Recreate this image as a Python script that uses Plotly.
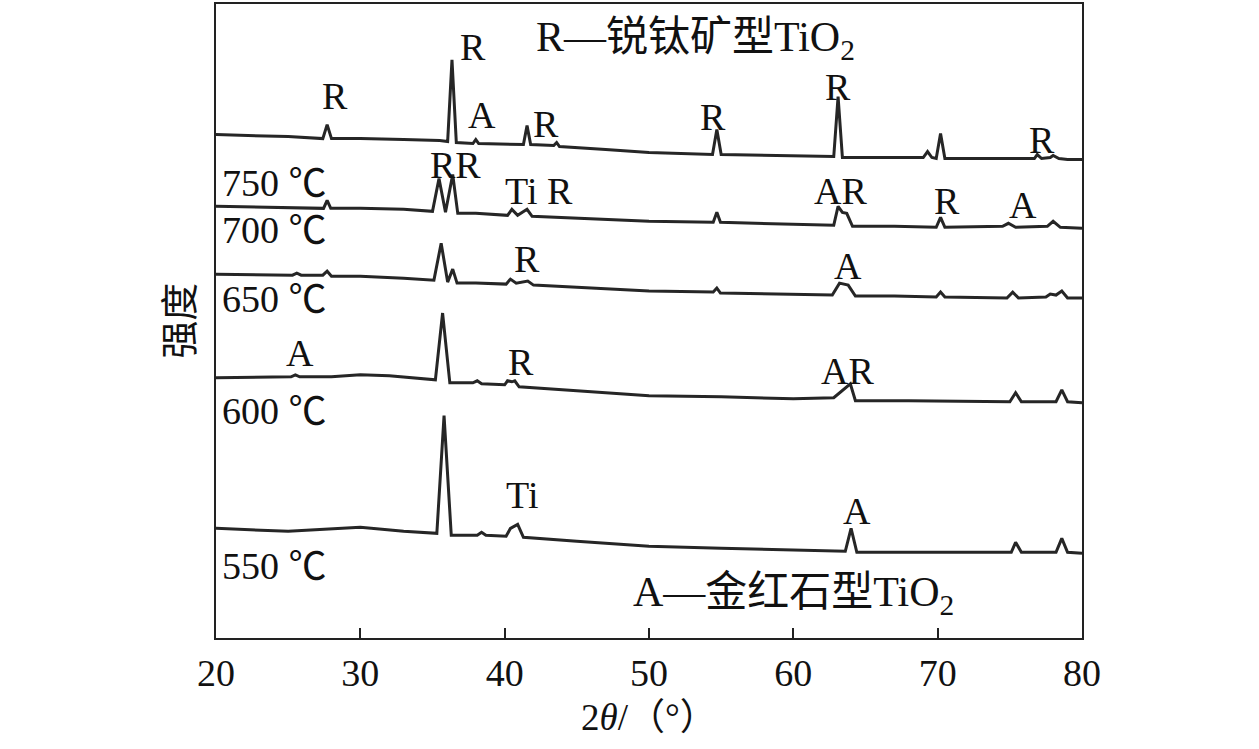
import plotly.graph_objects as go

# ---- data (2θ in degrees, intensity in arbitrary units with vertical offsets) ----
x_750 = [20, 25, 27.4, 27.7, 28.0, 30, 33, 35.5, 36.05, 36.35, 36.65, 37.8, 38.0, 38.2, 41.3,
         41.55, 41.8, 43.4, 43.6, 43.8, 47, 50, 54.4, 54.7, 55.0, 58, 62.8, 63.1, 63.4, 66,
         69.0, 69.3, 69.6, 69.9, 70.2, 70.5, 73, 76.7, 76.9, 77.2, 77.8, 78.0, 78.4, 79, 80]
y_750 = [505, 503, 501, 515, 501, 501, 500, 499, 498, 580, 497, 496, 500, 496, 495,
         514, 495, 494, 497, 493, 490, 487, 485, 510, 485, 484, 483, 543, 482, 482,
         482, 488, 482, 481, 506, 481, 481, 481, 485, 481, 482, 484, 481, 480, 480]

x_700 = [20, 25, 27.45, 27.7, 27.95, 30, 33, 35.0, 35.45, 35.9, 36.4, 36.75, 38, 40.2, 40.5,
         40.9, 41.55, 41.9, 45, 50, 54.45, 54.7, 54.95, 58, 62.8, 63.1, 63.4, 63.7, 64.1, 67,
         69.9, 70.2, 70.5, 74.5, 74.9, 75.4, 77.6, 78.0, 78.5, 80]
y_700 = [433, 432, 431, 439, 431, 431, 430, 428, 461, 427, 465, 426, 426, 424, 430,
         424, 430, 423, 421, 418, 417, 427, 417, 416, 414, 433, 427, 426, 413, 413,
         412, 422, 412, 413, 416, 412, 413, 418, 412, 411]

x_650 = [20, 25.3, 25.6, 25.9, 27.4, 27.7, 28.0, 30, 33, 35.1, 35.6, 36.05, 36.4, 36.7, 38,
         40.1, 40.4, 40.8, 41.6, 42, 46, 50, 54.45, 54.7, 54.95, 58, 62.7, 63.2, 63.8, 64.3,
         67, 69.9, 70.2, 70.5, 74.8, 75.2, 75.6, 77.5, 77.8, 78.2, 78.6, 79.0, 80]
y_650 = [365, 364, 366, 364, 364, 368, 363, 363, 361, 359, 396, 357, 370, 356, 356,
         355, 360, 356, 358, 354, 351, 348, 347, 351, 346, 345, 344, 356, 354, 343,
         343, 342, 347, 342, 341, 347, 341, 342, 345, 344, 348, 341, 341]

x_600 = [20, 25.2, 25.5, 25.8, 28, 30, 32, 35.2, 35.7, 36.2, 37.8, 38.1, 38.4, 40.0, 40.2,
         40.5, 40.7, 41.0, 45, 50, 55, 60, 62.8, 63.4, 63.95, 64.3, 68, 75.0, 75.4, 75.8,
         78.2, 78.6, 79.0, 80]
y_600 = [261, 262, 264, 262, 262, 264, 263, 259, 326, 256, 256, 258, 255, 254, 258,
         257, 258, 252, 248, 243, 242, 240, 241, 248, 255, 238, 238, 237, 246, 237,
         237, 249, 237, 236]

x_550 = [20, 25, 30, 33, 35.3, 35.8, 36.3, 38.1, 38.4, 38.7, 40.1, 40.4, 40.9, 41.3, 45,
         50, 55, 60, 63.6, 64.0, 64.4, 70, 75.1, 75.4, 75.8, 78.2, 78.6, 79.0, 80]
y_550 = [110, 107, 111, 107, 105, 223, 103, 103, 106, 103, 102, 110, 114, 101, 97,
         92, 90, 88, 87, 110, 86, 86, 86, 96, 86, 86, 100, 86, 85]

series = [("750 ℃", x_750, y_750), ("700 ℃", x_700, y_700), ("650 ℃", x_650, y_650),
          ("600 ℃", x_600, y_600), ("550 ℃", x_550, y_550)]

x_ticks = [20, 30, 40, 50, 60, 70, 80]

# peak labels: text, 2θ, intensity
peak_labels = [
    ("R", 28.25, 544), ("R", 37.8, 593), ("A", 38.43, 525), ("R", 42.86, 516),
    ("R", 54.43, 523), ("R", 63.1, 553), ("R", 77.23, 500),
    ("RR", 36.56, 474), ("Ti R", 42.38, 448), ("AR", 63.3, 448), ("R", 70.65, 438),
    ("A", 75.9, 434),
    ("R", 41.55, 380), ("A", 63.8, 373),
    ("A", 25.82, 286), ("R", 41.13, 277), ("AR", 63.72, 268),
    ("Ti", 41.2, 143), ("A", 64.41, 127),
]
temp_label_y = [456, 409, 340, 228, 72]

SERIF = "Liberation Serif, Times New Roman, Noto Sans CJK SC, serif"
LINE = "#262626"
TXT = "#111111"

fig = go.Figure()
for name, xs, ys in series:
    fig.add_trace(go.Scatter(x=xs, y=ys, mode="lines", name=name,
                             line=dict(color=LINE, width=3), showlegend=False))

anns = []
for t, xv, yv in peak_labels:
    anns.append(dict(text=t, x=xv, y=yv, xref="x", yref="y", showarrow=False,
                     xanchor="center", yanchor="middle",
                     font=dict(family=SERIF, size=38, color=TXT)))
for (name, _, _), yv in zip(series, temp_label_y):
    anns.append(dict(text=name, x=20.28, y=yv, xref="x", yref="y", xanchor="left",
                     yanchor="middle", showarrow=False,
                     font=dict(family=SERIF, size=38, color=TXT)))
anns.append(dict(text="R—锐钛矿型TiO<sub>2</sub>", x=53.19, y=600, xref="x", yref="y",
                 xanchor="center", yanchor="middle", showarrow=False,
                 font=dict(family=SERIF, size=42, color=TXT)))
anns.append(dict(text="A—金红石型TiO<sub>2</sub>", x=59.98, y=43, xref="x", yref="y",
                 xanchor="center", yanchor="middle", showarrow=False,
                 font=dict(family=SERIF, size=42, color=TXT)))
anns.append(dict(text="强度", x=-0.042, y=0.5, xref="paper", yref="paper", textangle=-90,
                 xanchor="center", yanchor="middle", showarrow=False,
                 font=dict(family=SERIF, size=38, color=TXT)))
anns.append(dict(text="2<i>θ</i>/（°）", x=0.5, y=-0.126, xref="paper", yref="paper",
                 xanchor="center", yanchor="middle", showarrow=False,
                 font=dict(family=SERIF, size=37, color=TXT)))

fig.update_layout(
    width=1259, height=749,
    margin=dict(l=216, r=177, t=2, b=111),
    paper_bgcolor="white", plot_bgcolor="white",
    annotations=anns,
    xaxis=dict(range=[20, 80], tickvals=x_ticks, ticks="inside", ticklen=10, tickwidth=2,
               tickcolor="#222", showline=True, linecolor="#222", linewidth=2, mirror=True,
               showgrid=False, zeroline=False,
               tickfont=dict(family=SERIF, size=38, color=TXT)),
    yaxis=dict(range=[0, 636], showticklabels=False, ticks="", showline=True,
               linecolor="#222", linewidth=2, mirror=True, showgrid=False, zeroline=False),
)

fig.write_html("out.html", config={"displayModeBar": False},
               post_script="document.body.style.margin='0px';document.body.style.padding='0px';")
